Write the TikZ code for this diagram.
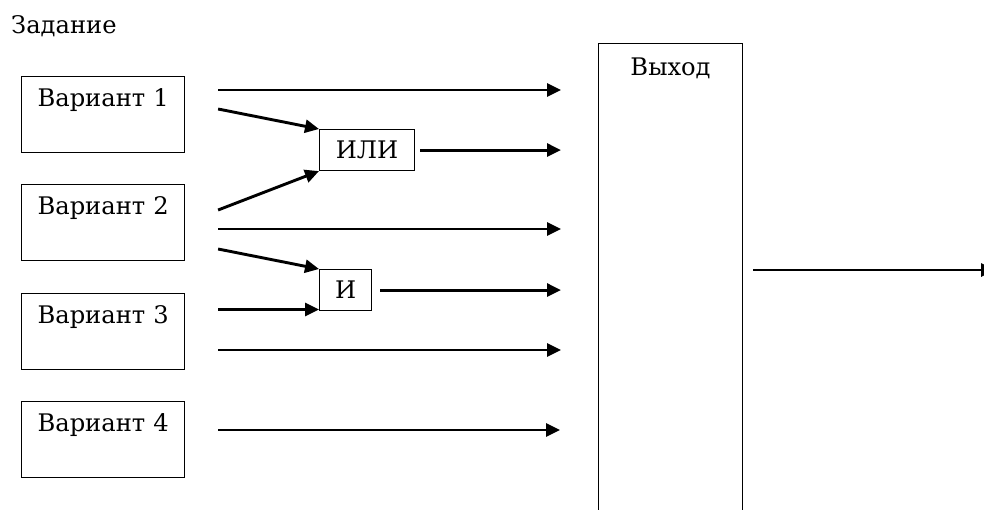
\documentclass[tikz,border=0pt]{standalone}
\usepackage{fontspec}
\setmainfont{DejaVu Serif}
\usetikzlibrary{arrows.meta,calc}
\begin{document}
\begin{tikzpicture}[x=1pt,y=-1pt,
  font=\fontsize{24.2}{28}\selectfont,
  vbox/.style={draw,line width=1.1pt,anchor=north west,inner xsep=16pt,inner ysep=0pt,
    text width=131pt,align=left,text height=30pt,text depth=46pt},
  gate/.style={draw,line width=1.1pt,anchor=north west,inner sep=0pt,minimum height=41pt},
  arr/.style={line width=2.9pt,-{Triangle[length=14pt,width=13pt]}}]
\useasboundingbox (0,0) rectangle (984,509);
\node[anchor=base west,inner sep=0pt] (title) at (11,33) {Задание};
\node[vbox] (v1) at (21,76) {\mbox{Вариант 1}};
\node[vbox] (v2) at (21,184) {\mbox{Вариант 2}};
\node[vbox] (v3) at (21,293) {\mbox{Вариант 3}};
\node[vbox] (v4) at (21,401) {\mbox{Вариант 4}};
\node[gate,minimum width=95pt] (or) at (319,129) {ИЛИ};
\node[gate,minimum width=52pt] (and) at (319,269) {И};
\node[draw,line width=1.1pt,anchor=north west,inner sep=0pt,text width=144pt,align=center,
  text height=32pt,text depth=460pt] (out) at (598,43) {Выход};
\coordinate (e1) at (561,90);
% from Вариант 1
\coordinate (a1) at ($(v1.north east)+(33,14)$);
\draw[arr] (a1) -- (a1 -| e1);
\draw[arr] ($(v1.north east)+(33,33)$) -- (or.north west);
% ИЛИ output
\draw[arr] ($(or.east)+(5,0)$) -- (or.east -| e1);
% from Вариант 2
\draw[arr] ($(v2.north east)+(33,26)$) -- (or.south west);
\coordinate (a2) at ($(v2.north east)+(33,45)$);
\draw[arr] (a2) -- (a2 -| e1);
\draw[arr] ($(v2.north east)+(33,65)$) -- (and.north west);
% И output
\draw[arr] ($(and.east)+(8,0)$) -- (and.east -| e1);
% from Вариант 3
\coordinate (a3) at ($(v3.north east)+(33,16.5)$);
\draw[arr] (a3) -- (a3 -| and.west);
\coordinate (a4) at ($(v3.north east)+(33,57)$);
\draw[arr] (a4) -- (a4 -| e1);
% from Вариант 4
\coordinate (a5) at ($(v4.north east)+(33,29)$);
\draw[arr] (a5) -- ($(a5 -| e1)+(-1,0)$);
% output
\coordinate (o1) at ($(out.north east)+(10,227)$);
\draw[arr] (o1) -- ($(o1)+(242,0)$);
\end{tikzpicture}
\end{document}
